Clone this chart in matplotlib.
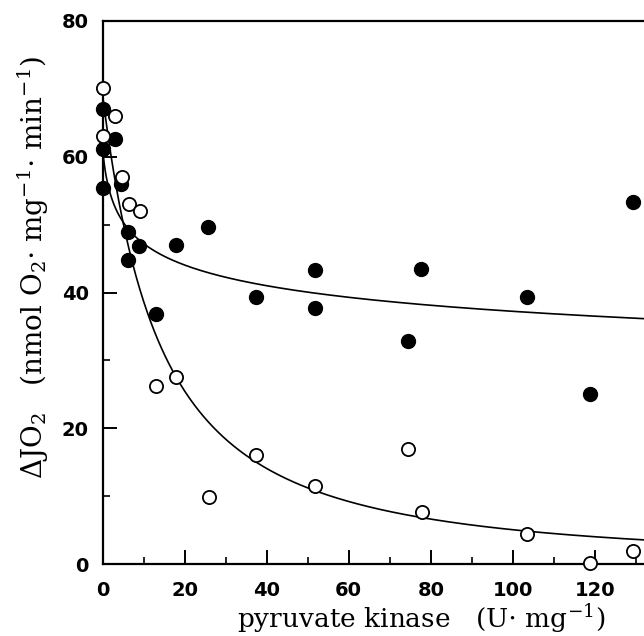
import numpy as np
import matplotlib
matplotlib.use("Agg")
import matplotlib.pyplot as plt
from matplotlib.ticker import MultipleLocator

# Filled circles
filled_x = [0, 0, 0, 3.0, 4.4, 6.2, 6.2, 8.9, 13.0, 17.9, 25.8, 37.3, 51.8, 51.8, 74.4, 77.6, 103.4, 118.9, 129.2]
filled_y = [67.0, 61.1, 55.4, 62.6, 56.0, 48.9, 44.8, 46.9, 36.9, 47.0, 49.7, 39.4, 43.3, 37.7, 32.9, 43.4, 39.4, 25.1, 53.3]
# Open circles
open_x = [0, 0, 3.0, 4.6, 6.5, 9.1, 12.9, 17.8, 25.9, 37.4, 51.8, 74.4, 77.8, 103.4, 118.9, 129.4]
open_y = [70.2, 63.0, 66.0, 57.0, 53.1, 52.0, 26.2, 27.6, 9.8, 16.0, 11.5, 16.9, 7.6, 4.4, 0.1, 1.9]

# fitted curve parameters  y = a * (1 + x/k)^(-n)
filled_fit = dict(a=61.0, k=1.0, n=0.107)
open_fit = dict(a=69.0, k=21.2, n=1.5)

x_ticks = [0, 20, 40, 60, 80, 100, 120]
y_ticks = [0, 20, 40, 60, 80]

plt.rcParams['mathtext.fontset'] = 'dejavuserif'

fig = plt.figure(figsize=(6.44, 6.36), dpi=100)
ax = fig.add_axes([102.7/644, 72/636, 1 - 102.7/644, (564 - 21)/636])

xs = np.linspace(0, 135, 600)
for p in (filled_fit, open_fit):
    ax.plot(xs, p['a'] * (1 + xs / p['k']) ** (-p['n']), color='black', lw=1.2, zorder=2)

ax.plot(filled_x, filled_y, 'o', ms=10, mfc='black', mec='black', zorder=3, clip_on=False)
ax.plot(open_x, open_y, 'o', ms=9.5, mfc='white', mec='black', mew=1.3, zorder=4, clip_on=False)

ax.set_xlim(0, 132)
ax.set_ylim(0, 80)
ax.set_xticks(x_ticks)
ax.set_yticks(y_ticks)
ax.xaxis.set_minor_locator(MultipleLocator(10))
ax.yaxis.set_minor_locator(MultipleLocator(10))
ax.tick_params(which='major', direction='in', length=10, width=1.4, pad=10,
               labelsize=14, top=False, right=False)
ax.tick_params(axis='x', which='major', pad=12)
ax.tick_params(which='minor', direction='in', length=5, width=1.2, top=False, right=False)
for lab in ax.get_xticklabels() + ax.get_yticklabels():
    lab.set_fontweight('bold')
    lab.set_fontfamily('DejaVu Sans')

for s in ('left', 'bottom', 'top'):
    ax.spines[s].set_linewidth(1.6)
ax.spines['right'].set_visible(False)

fig.text(421/644, 1 - 619/636, r'pyruvate kinase   (U$\cdot$ mg$^{-1}$)',
         ha='center', va='center', fontsize=19, family='DejaVu Serif')
fig.text(33/644, 1 - 268/636,
         r'$\Delta$JO$_2$   (nmol O$_2$$\cdot$ mg$^{-1}$$\cdot$ min$^{-1}$)',
         ha='center', va='center', rotation=90, fontsize=20, family='DejaVu Serif')

fig.savefig('out.png', dpi=100)
